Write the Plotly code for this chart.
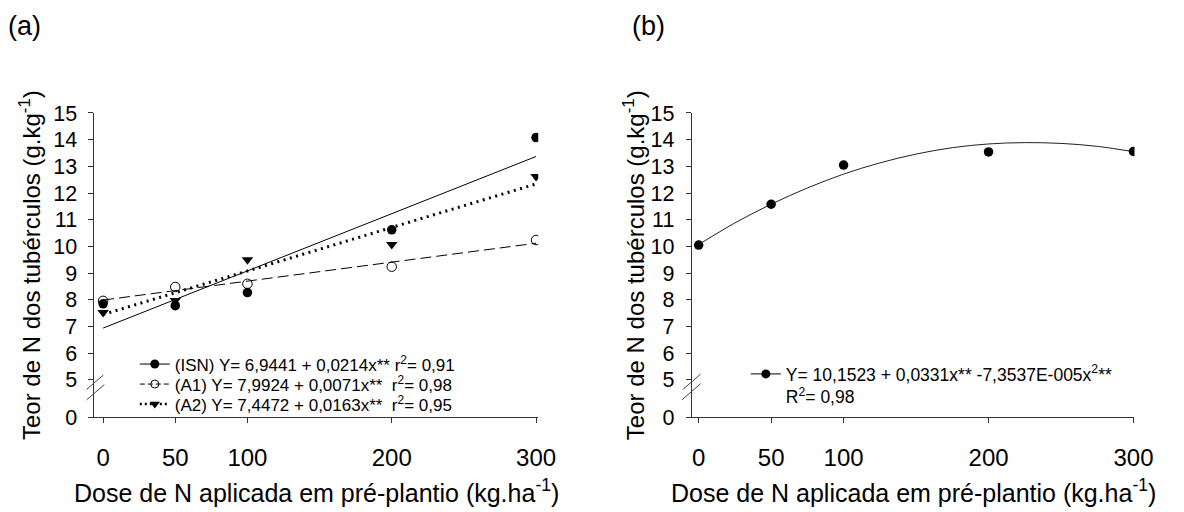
import plotly.graph_objects as go

# ---------------- data ----------------
dose = [0, 50, 100, 200, 300]

# panel (a) observed values
isn_obs = [7.85, 7.78, 8.27, 10.62, 14.08]
a1_obs = [7.96, 8.48, 8.60, 9.24, 10.24]
a2_obs = [7.52, 7.97, 9.50, 10.07, 12.62]

# panel (a) fitted lines (end points)
fit_x = [0, 300]
isn_fit = [6.94, 13.37]
a1_fit = [7.99, 10.12]
a2_fit = [7.45, 12.34]

# panel (b) observed values
b_obs = [10.05, 11.58, 13.05, 13.54, 13.56]

# panel (b) fitted curve
curve_x = [0, 25, 50, 75, 100, 125, 150, 175, 200, 225, 250, 275, 300]
curve_y = [10.07, 10.88, 11.58, 12.19, 12.71, 13.13, 13.46, 13.70, 13.84, 13.89, 13.86, 13.75, 13.55]

x_ticks = [0, 50, 100, 200, 300]
y_ticks = [5, 6, 7, 8, 9, 10, 11, 12, 13, 14, 15]

leg_a = [
    "(ISN) Y= 6,9441 + 0,0214x** r<sup>2</sup>= 0,91",
    "(A1) Y= 7,9924 + 0,0071x**&nbsp; r<sup>2</sup>= 0,98",
    "(A2) Y= 7,4472 + 0,0163x**&nbsp; r<sup>2</sup>= 0,95",
]
leg_b = "Y= 10,1523 + 0,0331x** -7,3537E-005x<sup>2</sup>**<br>R<sup>2</sup>= 0,98"

y_title = "Teor de N dos tubérculos (g.kg<sup>-1</sup>)"
x_title = "Dose de N aplicada em pré-plantio (kg.ha<sup>-1</sup>)"

# ---------------- layout helpers ----------------
W, H = 1184, 512
FONT = "Liberation Sans, Arial, sans-serif"
INK = "#000000"
AX = "#333333"


def px(v):
    return v / W


def py(v):
    return 1 - v / H


fig = go.Figure()

# ---- panel (a) ----
fig.add_trace(go.Scatter(x=fit_x, y=isn_fit, mode="lines", line=dict(color=INK, width=1),
                         xaxis="x", yaxis="y", showlegend=False))
fig.add_trace(go.Scatter(x=fit_x, y=a1_fit, mode="lines", line=dict(color=INK, width=1, dash="11px,5px"),
                         xaxis="x", yaxis="y", showlegend=False))
fig.add_trace(go.Scatter(x=fit_x, y=a2_fit, mode="lines", line=dict(color=INK, width=3, dash="2px,4.5px"),
                         xaxis="x", yaxis="y", showlegend=False))
fig.add_trace(go.Scatter(x=dose, y=isn_obs, mode="markers",
                         marker=dict(symbol="circle", size=9.5, color=INK),
                         xaxis="x", yaxis="y", showlegend=False))
fig.add_trace(go.Scatter(x=dose, y=a1_obs, mode="markers",
                         marker=dict(symbol="circle-open", size=9.5, color=INK, line=dict(width=1)),
                         xaxis="x", yaxis="y", showlegend=False))
fig.add_trace(go.Scatter(x=dose, y=a2_obs, mode="markers",
                         marker=dict(symbol="triangle-down", size=10, color=INK),
                         xaxis="x", yaxis="y", showlegend=False))

# legend entries for panel (a) (one legend per row for exact spacing)
fig.add_trace(go.Scatter(x=[None], y=[None], mode="lines+markers", name=leg_a[0],
                         line=dict(color=INK, width=1), marker=dict(symbol="circle", size=9, color=INK),
                         xaxis="x", yaxis="y", legend="legend"))
fig.add_trace(go.Scatter(x=[None], y=[None], mode="lines+markers", name=leg_a[1],
                         line=dict(color=INK, width=1, dash="5px,3px"),
                         marker=dict(symbol="circle-open", size=8, color=INK),
                         xaxis="x", yaxis="y", legend="legend3"))
fig.add_trace(go.Scatter(x=[None], y=[None], mode="lines+markers", name=leg_a[2],
                         line=dict(color=INK, width=2.5, dash="2px,3px"),
                         marker=dict(symbol="triangle-down", size=9, color=INK),
                         xaxis="x", yaxis="y", legend="legend4"))

# lower (broken) segment subplot for panel (a)
fig.add_trace(go.Scatter(x=[None], y=[None], xaxis="x", yaxis="y3", showlegend=False, hoverinfo="skip"))

# ---- panel (b) ----
fig.add_trace(go.Scatter(x=curve_x, y=curve_y, mode="lines", line=dict(color="#222", width=1, shape="spline"),
                         xaxis="x2", yaxis="y2", showlegend=False))
fig.add_trace(go.Scatter(x=dose, y=b_obs, mode="markers", marker=dict(symbol="circle", size=9.5, color=INK),
                         xaxis="x2", yaxis="y2", showlegend=False))
fig.add_trace(go.Scatter(x=[None], y=[None], mode="lines+markers", name=leg_b,
                         line=dict(color=INK, width=1), marker=dict(symbol="circle", size=9, color=INK),
                         xaxis="x2", yaxis="y2", legend="legend2"))
fig.add_trace(go.Scatter(x=[None], y=[None], xaxis="x2", yaxis="y4", showlegend=False, hoverinfo="skip"))

xcommon = dict(tickvals=x_ticks, ticks="outside", ticklen=5, tickcolor=AX, showline=True, linecolor=AX,
               linewidth=1, showgrid=False, zeroline=False, ticklabelstandoff=14,
               tickfont=dict(family=FONT, size=24, color=INK))
ycommon = dict(ticks="outside", ticklen=5, tickcolor=AX, showline=True, linecolor=AX, linewidth=1,
               showgrid=False, zeroline=False, ticklabelstandoff=7,
               tickfont=dict(family=FONT, size=21.5, color=INK))

legfont = dict(family=FONT, size=17, color=INK)


def leg(x, y, **kw):
    d = dict(x=px(x), y=py(y), xanchor="left", yanchor="top", bgcolor="rgba(0,0,0,0)", font=legfont,
             tracegroupgap=0)
    d.update(kw)
    return d


fig.update_layout(
    width=W, height=H,
    margin=dict(l=0, r=0, t=0, b=0),
    paper_bgcolor="white", plot_bgcolor="white",
    font=dict(family=FONT, color=INK),
    xaxis=dict(domain=[px(96), px(547)], range=[-6, 301.5], anchor="y3", **xcommon),
    yaxis=dict(domain=[py(387), py(107)], range=[5, 15], tickvals=y_ticks, anchor="x", **ycommon),
    yaxis3=dict(domain=[py(426), py(387)], range=[0, 1.39], tickvals=[0], anchor="x", **ycommon),
    xaxis2=dict(domain=[px(703), px(1153)], range=[-4.8, 300.7], anchor="y4", **xcommon),
    yaxis2=dict(domain=[py(387), py(107)], range=[5, 15], tickvals=y_ticks, anchor="x2", **ycommon),
    yaxis4=dict(domain=[py(426), py(387)], range=[0, 1.39], tickvals=[0], anchor="x2", **ycommon),
    legend=leg(137, 352),
    legend3=leg(137, 373),
    legend4=leg(137, 394),
    legend2=leg(758, 362, valign="top", font=dict(family=FONT, size=17.5, color=INK)),
    showlegend=True,
)

# axis titles and panel labels
ann = []
for xc, yt_x in [((96 + 547) / 2, 31), ((703 + 1153) / 2, 645)]:
    ann.append(dict(x=px(xc), y=py(504), xref="paper", yref="paper", text=x_title, showarrow=False,
                    font=dict(family=FONT, size=25, color=INK), xanchor="center", yanchor="middle"))
    ann.append(dict(x=px(yt_x), y=py(267), xref="paper", yref="paper", text=y_title, showarrow=False,
                    textangle=-90, font=dict(family=FONT, size=24, color=INK),
                    xanchor="center", yanchor="middle"))
ann.append(dict(x=px(6), y=py(16), xref="paper", yref="paper", text="(a)", showarrow=False,
                font=dict(family=FONT, size=27, color=INK), xanchor="left", yanchor="middle"))
ann.append(dict(x=px(640), y=py(16), xref="paper", yref="paper", text="(b)", showarrow=False,
                font=dict(family=FONT, size=27, color=INK), xanchor="left", yanchor="middle"))
fig.update_layout(annotations=ann)

# axis-break marks
shapes = []
for (x0, y0, x1, y1) in [(88, 397, 105, 382), (88, 408, 106, 392),
                         (694, 397, 712, 381), (693, 408, 712, 391)]:
    shapes.append(dict(type="line", xref="paper", yref="paper", x0=px(x0), y0=py(y0), x1=px(x1), y1=py(y1),
                       line=dict(color="#444", width=1)))
fig.update_layout(shapes=shapes)

fig.write_html("out.html")
